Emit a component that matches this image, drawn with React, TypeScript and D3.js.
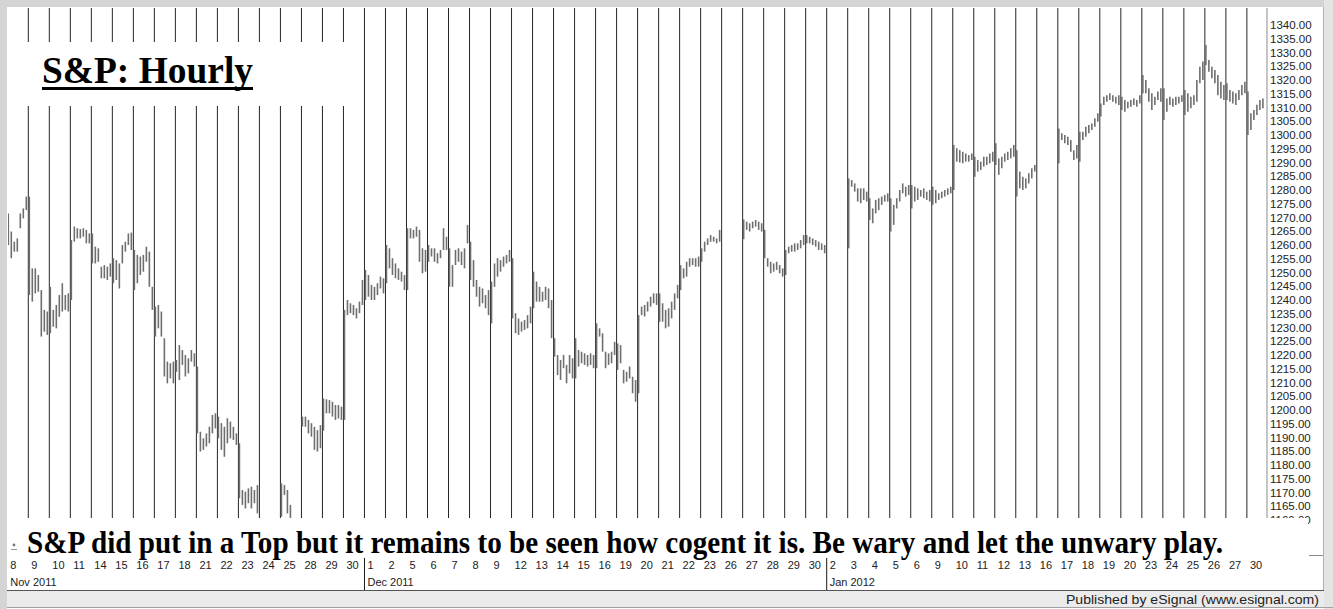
import React, { useEffect } from "react";
import * as d3 from "d3";

// Trading days shown on the x axis (holidays appear as empty columns)
const dayLabels = ["8","9","10","11","14","15","16","17","18","21","22","23","24","25","28","29","30",
  "1","2","5","6","7","8","9","12","13","14","15","16","19","20","21","22","23","26","27","28","29","30",
  "2","3","4","5","6","9","10","11","12","13","16","17","18","19","20","23","24","25","26","27","30"];
const monthLabels = [
  { day: 0, label: "Nov 2011" },
  { day: 17, label: "Dec 2011" },
  { day: 39, label: "Jan 2012" },
];
const priceTicks = d3.range(1160, 1340.01, 5);

// Hourly bar highs per trading day
const barHigh: number[][] = [
  [1271.5,1264.9,1261.2,1262.4,1271.5,1273.3,1277.6],
  [1277.6,1251.5,1251.5,1249.1,1243.6,1236.4,1235.8],
  [1244.8,1236.4,1238.2,1241.8,1246.1,1241.8,1242.4],
  [1261.8,1266.7,1266.1,1265.8,1266.1,1265.5,1264.2],
  [1264.2,1259.4,1258.8,1252.1,1252.7,1252.1,1253.3],
  [1255.2,1254.5,1253.3,1260.0,1261.2,1264.2,1264.5],
  [1258.2,1256.4,1255.8,1256.4,1259.4,1257.6,1244.8],
  [1237.6,1238.2,1235.8,1226.1,1217.6,1217.0,1217.6],
  [1218.2,1223.6,1221.8,1220.0,1218.8,1221.8,1220.6],
  [1215.8,1192.1,1189.7,1191.5,1193.9,1198.2,1198.8],
  [1197.6,1195.2,1193.9,1197.0,1195.8,1193.9,1191.5],
  [1187.9,1170.9,1170.3,1171.5,1172.1,1170.9,1172.7],
  [],
  [1173.3,1172.7,1170.9,1165.5],
  [1197.6,1197.6,1196.4,1195.2,1193.9,1192.7,1194.5],
  [1204.2,1203.9,1203.6,1203.0,1201.8,1201.8,1201.2],
  [1236.4,1240.0,1238.8,1238.2,1237.0,1239.4,1247.3],
  [1250.9,1249.1,1245.5,1244.8,1246.1,1248.5,1247.9],
  [1260.0,1258.8,1255.2,1253.3,1251.5,1250.3,1249.1],
  [1266.1,1266.1,1265.5,1266.7,1265.5,1258.8,1258.2],
  [1260.0,1258.8,1258.8,1257.0,1258.2,1266.1,1263.0],
  [1258.8,1252.7,1258.2,1258.8,1257.6,1258.8,1267.3],
  [1261.2,1254.5,1247.3,1244.8,1244.2,1241.8,1243.6],
  [1246.7,1253.3,1255.2,1254.5,1255.8,1256.4,1258.2],
  [1255.2,1235.2,1233.3,1232.1,1232.7,1234.5,1237.6],
  [1250.3,1246.7,1244.8,1243.0,1244.8,1244.2,1240.0],
  [1226.1,1220.0,1218.2,1220.0,1216.4,1220.0,1218.8],
  [1226.1,1221.8,1221.2,1220.6,1220.0,1220.6,1220.0],
  [1231.5,1229.7,1227.9,1221.2,1220.6,1221.2,1224.8],
  [1224.2,1223.6,1214.6,1213.9,1215.8,1212.1,1210.9],
  [1234.5,1237.6,1238.2,1239.4,1241.2,1242.4,1242.4],
  [1242.4,1238.8,1236.4,1237.0,1239.4,1242.4,1245.5],
  [1252.7,1251.5,1253.9,1255.2,1255.2,1255.2,1255.8],
  [1258.8,1261.2,1262.4,1263.6,1263.0,1262.4,1265.5],
  [],
  [1269.3,1268.5,1267.9,1268.5,1269.1,1268.5,1267.9],
  [1265.5,1255.2,1253.9,1253.3,1253.9,1252.7,1251.5],
  [1258.2,1259.4,1260.0,1260.6,1260.6,1261.8,1263.6],
  [1263.6,1263.0,1262.4,1261.8,1261.2,1260.6,1260.0],
  [],
  [1284.2,1283.6,1282.4,1280.6,1280.6,1280.6,1279.4],
  [1277.0,1273.3,1276.4,1277.0,1277.6,1278.2,1278.8],
  [1277.0,1274.6,1277.0,1280.0,1282.4,1281.2,1281.8],
  [1281.8,1281.2,1280.6,1280.0,1280.6,1279.4,1280.0],
  [1281.2,1280.0,1278.8,1279.4,1280.0,1280.6,1281.2],
  [1296.4,1295.2,1294.5,1293.9,1293.3,1292.7,1293.3],
  [1292.1,1290.9,1290.3,1292.1,1292.1,1293.3,1293.9],
  [1297.0,1291.5,1292.1,1293.3,1293.9,1295.2,1296.4],
  [1294.5,1286.7,1284.8,1284.2,1286.1,1287.9,1289.1],
  [],
  [1302.4,1300.6,1300.0,1299.4,1298.2,1294.5,1296.4],
  [1301.2,1301.2,1303.0,1303.6,1304.2,1306.1,1307.9],
  [1311.5,1313.9,1314.5,1315.2,1314.5,1313.9,1314.5],
  [1313.9,1312.7,1312.1,1312.7,1313.3,1312.7,1314.5],
  [1321.8,1320.0,1317.0,1315.2,1313.9,1315.8,1317.0],
  [1317.0,1313.3,1313.9,1313.3,1313.9,1313.9,1314.5],
  [1316.4,1315.2,1313.9,1314.5,1320.0,1324.8,1326.7],
  [1332.7,1327.3,1324.8,1323.6,1321.8,1319.4,1318.2],
  [1318.8,1316.4,1315.8,1315.2,1316.4,1318.2,1319.4],
  [1315.8,1307.9,1309.1,1311.0,1312.7,1313.3],
];

// Hourly bar lows per trading day
const barLow: number[][] = [
  [1260.0,1255.2,1257.6,1257.6,1266.1,1269.7,1272.7],
  [1241.8,1239.4,1242.4,1243.0,1226.7,1228.5,1227.3],
  [1227.9,1230.3,1229.7,1233.9,1235.8,1236.4,1235.8],
  [1240.0,1261.2,1262.4,1262.4,1263.0,1260.6,1260.6],
  [1253.3,1253.3,1253.9,1247.9,1247.9,1247.3,1248.5],
  [1246.1,1247.3,1244.2,1253.3,1257.6,1260.0,1258.2],
  [1243.6,1246.1,1249.1,1250.3,1253.9,1244.8,1236.4],
  [1226.7,1229.7,1226.7,1212.2,1209.7,1211.5,1209.7],
  [1213.9,1210.9,1216.4,1212.2,1213.3,1217.6,1215.8],
  [1191.5,1184.9,1185.5,1186.7,1187.9,1191.5,1193.3],
  [1189.7,1185.5,1183.0,1187.9,1189.7,1189.1,1187.3],
  [1167.9,1165.5,1164.2,1166.1,1164.2,1166.1,1162.4],
  [],
  [1161.2,1169.1,1162.4,1158.0],
  [1194.0,1193.9,1191.5,1190.3,1185.5,1184.9,1186.1],
  [1192.5,1198.8,1198.8,1197.6,1196.4,1196.9,1196.4],
  [1196.4,1234.5,1235.2,1234.5,1233.3,1235.2,1238.2],
  [1240.0,1241.2,1240.0,1240.0,1241.8,1244.2,1242.4],
  [1246.1,1251.5,1249.1,1247.9,1247.3,1246.7,1243.6],
  [1243.6,1262.4,1262.4,1263.0,1253.9,1249.7,1250.3],
  [1253.9,1255.8,1253.9,1253.3,1255.2,1258.2,1258.2],
  [1244.8,1244.8,1252.7,1253.9,1252.7,1251.5,1260.6],
  [1247.3,1244.8,1241.2,1237.6,1238.8,1237.0,1234.5],
  [1231.5,1244.8,1248.5,1250.3,1252.1,1253.3,1253.9],
  [1233.3,1227.9,1227.3,1228.5,1229.1,1229.7,1231.5],
  [1237.0,1239.4,1239.4,1239.4,1240.0,1237.0,1226.1],
  [1219.4,1212.7,1210.9,1215.2,1209.7,1213.3,1211.5],
  [1211.5,1215.8,1217.0,1216.4,1215.8,1216.4,1215.2],
  [1215.2,1226.7,1221.2,1215.2,1216.4,1217.0,1220.0],
  [1214.6,1217.0,1209.7,1210.3,1211.5,1206.1,1203.0],
  [1206.1,1234.5,1234.0,1235.8,1237.6,1238.8,1238.2],
  [1232.1,1232.1,1229.7,1230.3,1233.3,1236.4,1240.6],
  [1243.6,1247.9,1248.5,1252.1,1252.7,1252.1,1252.1],
  [1253.9,1257.6,1260.0,1261.2,1261.2,1260.6,1261.2],
  [],
  [1262.1,1265.5,1264.9,1266.1,1266.7,1265.5,1264.9],
  [1255.2,1252.1,1249.7,1250.3,1250.9,1249.7,1248.5],
  [1249.1,1257.0,1257.6,1257.6,1258.2,1258.8,1260.0],
  [1260.6,1260.6,1260.0,1259.4,1258.2,1258.2,1257.0],
  [],
  [1258.8,1281.2,1279.4,1275.8,1275.2,1276.4,1275.8],
  [1269.1,1267.9,1271.5,1272.7,1274.6,1275.8,1275.8],
  [1264.9,1267.3,1273.3,1275.8,1278.8,1277.6,1278.2],
  [1273.3,1275.8,1276.4,1277.6,1277.0,1276.4,1275.8],
  [1274.6,1275.2,1276.4,1277.0,1277.6,1278.2,1278.8],
  [1280.0,1290.3,1290.0,1289.7,1290.3,1290.3,1290.9],
  [1284.8,1286.7,1287.3,1288.5,1289.1,1289.7,1290.3],
  [1289.1,1285.5,1287.9,1290.3,1290.9,1291.5,1292.1],
  [1277.6,1280.6,1280.0,1280.6,1282.4,1284.2,1286.7],
  [],
  [1289.7,1298.2,1297.0,1296.4,1293.9,1290.9,1291.5],
  [1290.3,1298.2,1299.4,1300.6,1301.8,1303.0,1304.8],
  [1306.7,1310.9,1312.1,1312.7,1312.1,1311.5,1310.9],
  [1309.1,1308.5,1309.7,1310.3,1310.9,1310.3,1311.5],
  [1315.2,1315.2,1312.1,1309.1,1310.9,1312.7,1312.1],
  [1305.5,1308.5,1310.9,1310.3,1310.9,1311.5,1312.1],
  [1307.3,1308.5,1309.7,1310.9,1312.1,1318.8,1320.0],
  [1325.5,1323.0,1320.6,1318.8,1314.5,1313.3,1312.7],
  [1312.7,1312.1,1311.5,1310.9,1312.7,1314.5,1315.2],
  [1300.0,1301.8,1305.5,1307.3,1309.1,1309.7],
];

const title = "S&P: Hourly";
const note = "S&P did put in a Top but it remains to be seen how cogent it is. Be wary and let the unwary play.";
const footer = "Published by eSignal (www.esignal.com)";

const W = 1333;
const H = 609;
const BARS_PER_DAY = 7;

export default function App() {
  useEffect(() => {
    document.body.style.margin = "0";
  }, []);

  const x = d3.scaleLinear().domain([0, dayLabels.length]).range([7.3, 7.3 + dayLabels.length * 21.01]);
  const y = d3.scaleLinear().domain([1160, 1340]).range([520, 25]);
  const plotTop = 8;
  const plotBottom = 555;
  const axisX = 1267;

  const bars: { x: number; h: number; l: number; key: string }[] = [];
  barHigh.forEach((hs, d) => {
    hs.forEach((h, k) => {
      bars.push({ x: x(d + k / BARS_PER_DAY) + 1, h, l: barLow[d][k], key: `${d}-${k}` });
    });
  });

  const sansFont = "'Liberation Sans', Arial, sans-serif";
  const serifFont = "'Liberation Serif', 'Times New Roman', serif";

  return (
    <svg width={W} height={H} style={{ display: "block" }} xmlns="http://www.w3.org/2000/svg">
      <rect x={0} y={0} width={W} height={H} fill="#ffffff" />
      <defs>
        <clipPath id="plotClip">
          <rect x={8} y={plotTop} width={axisX - 8} height={plotBottom - plotTop} />
        </clipPath>
      </defs>

      {/* day separators */}
      <g clipPath="url(#plotClip)">
        {dayLabels.map((_, i) =>
          i === 0 ? null : (
            <line key={"sep" + i} x1={x(i)} x2={x(i)} y1={plotTop} y2={plotBottom} stroke="#262626" strokeWidth={1} />
          )
        )}
        {bars.map((b) => (
          <line key={b.key} x1={b.x} x2={b.x} y1={y(b.h)} y2={y(b.l)} stroke="#6e6e6e" strokeWidth={1.6} />
        ))}
      </g>

      {/* right price axis */}
      <line x1={axisX} x2={axisX} y1={plotTop} y2={plotBottom} stroke="#8a8a8a" strokeWidth={1} />
      {priceTicks.map((v) => (
        <text key={"pt" + v} x={1270} y={y(v)} dy="0.35em" fontFamily={sansFont} fontSize={11.5} fill="#222">
          {v.toFixed(2)}
        </text>
      ))}
      <line x1={1309} x2={1323} y1={plotBottom + 0.5} y2={plotBottom + 0.5} stroke="#8a8a8a" strokeWidth={1} />

      {/* title box */}
      <rect x={9} y={42} width={343} height={64} fill="#ffffff" />
      <text x={42} y={83} fontFamily={serifFont} fontWeight="bold" fontSize={38} fill="#000" textLength={211} lengthAdjust="spacingAndGlyphs">
        {title}
      </text>
      <rect x={42} y={87} width={211} height={3} fill="#000" />

      {/* annotation box */}
      <rect x={8} y={518} width={1300} height={43} fill="#ffffff" />
      <text x={27} y={552.5} fontFamily={serifFont} fontWeight="bold" fontSize={31} fill="#000" textLength={1196} lengthAdjust="spacingAndGlyphs">
        {note}
      </text>
      <circle cx={14} cy={545} r={1.4} fill="#777" />
      <line x1={11} x2={17} y1={549.5} y2={549.5} stroke="#999" strokeWidth={1} />

      {/* x axis labels */}
      {dayLabels.map((lab, i) => (
        <text key={"dl" + i} x={x(i) + 3} y={569} fontFamily={sansFont} fontSize={11} fill="#222">
          {lab}
        </text>
      ))}
      {monthLabels.map((m) => (
        <g key={m.label}>
          {m.day > 0 && (
            <line x1={x(m.day)} x2={x(m.day)} y1={558} y2={590} stroke="#1a1a1a" strokeWidth={1} />
          )}
          <text x={x(m.day) + 3} y={586} fontFamily={sansFont} fontSize={11} fill="#222">
            {m.label}
          </text>
        </g>
      ))}

      {/* frame */}
      <rect x={0} y={0} width={7} height={H} fill="#d4d4d4" />
      <rect x={0} y={0} width={W} height={7} fill="#d4d4d4" />
      <rect x={1324} y={0} width={9} height={H} fill="#e4e4e4" />
      <line x1={1323.5} x2={1323.5} y1={7} y2={591} stroke="#b0b0b0" strokeWidth={1} />

      {/* footer */}
      <line x1={7} x2={1324} y1={590.5} y2={590.5} stroke="#555" strokeWidth={1} />
      <rect x={7} y={591} width={1317} height={16} fill="#ebebeb" />
      <line x1={7} x2={1333} y1={607.5} y2={607.5} stroke="#a0a0a0" strokeWidth={1} />
      <text x={1319} y={603.5} textAnchor="end" fontFamily={sansFont} fontSize={13} fill="#222" textLength={253} lengthAdjust="spacingAndGlyphs">
        {footer}
      </text>
    </svg>
  );
}
